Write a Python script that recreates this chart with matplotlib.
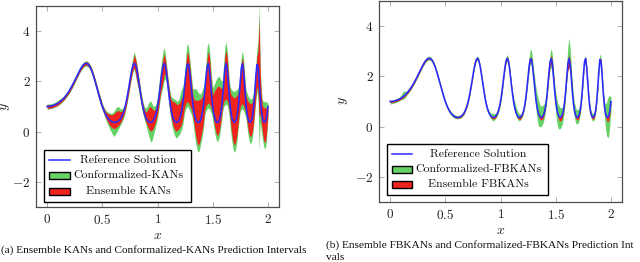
import numpy as np
import matplotlib
matplotlib.use("Agg")
import matplotlib.pyplot as plt
from matplotlib.lines import Line2D
from matplotlib.patches import Rectangle

plt.rcParams['mathtext.fontset'] = 'cm'

# ---------------- data ----------------
x_vals = np.linspace(0.0, 2.0, 201)

ref_y = [
 1.000,1.001,1.005,1.011,1.020,1.032,1.046,1.064,1.084,1.107,
 1.134,1.164,1.197,1.235,1.276,1.322,1.372,1.427,1.486,1.550,
 1.619,1.693,1.771,1.853,1.939,2.028,2.119,2.211,2.302,2.389,
 2.471,2.546,2.612,2.664,2.700,2.717,2.714,2.688,2.639,2.567,
 2.471,2.356,2.222,2.075,1.917,1.754,1.591,1.430,1.276,1.132,
 1.000,0.881,0.776,0.685,0.607,0.542,0.488,0.446,0.413,0.389,
 0.374,0.368,0.370,0.382,0.404,0.437,0.485,0.549,0.634,0.744,
 0.882,1.053,1.257,1.495,1.756,2.028,2.288,2.508,2.660,2.718,
 2.671,2.521,2.288,2.002,1.697,1.403,1.139,0.917,0.740,0.604,
 0.504,0.436,0.392,0.371,0.370,0.390,0.434,0.509,0.620,0.781,
 1.000,1.284,1.626,1.999,2.351,2.612,2.718,2.636,2.381,2.017,
 1.619,1.250,0.946,0.718,0.558,0.453,0.393,0.369,0.377,0.419,
 0.505,0.647,0.865,1.175,1.576,2.028,2.439,2.687,2.680,2.415,
 1.983,1.513,1.100,0.791,0.582,0.453,0.386,0.368,0.393,0.471,
 0.618,0.862,1.227,1.707,2.222,2.612,2.709,2.460,1.976,1.443,
 1.000,0.692,0.503,0.402,0.368,0.390,0.477,0.653,0.956,1.413,
 1.983,2.499,2.718,2.512,1.990,1.403,0.932,0.626,0.453,0.378,
 0.375,0.442,0.608,0.915,1.405,2.028,2.563,2.705,2.351,1.725,
 1.134,0.724,0.494,0.388,0.371,0.437,0.615,0.962,1.520,2.197,
 2.671,2.607,2.049,1.364,0.845,0.542,0.401,0.369,0.431,0.619,1.000]

# Panel (a): Ensemble KANs (red) band
ens_kan_lo = [
 0.94,0.93,0.93,0.94,0.95,0.96,0.98,1.00,1.02,1.04,
 1.07,1.10,1.14,1.18,1.22,1.26,1.31,1.37,1.43,1.49,
 1.56,1.63,1.71,1.79,1.88,1.97,2.06,2.15,2.24,2.33,
 2.41,2.48,2.55,2.60,2.63,2.65,2.65,2.62,2.57,2.50,
 2.39,2.27,2.13,1.98,1.82,1.65,1.49,1.33,1.17,1.03,
 0.93,0.80,0.68,0.57,0.47,0.38,0.30,0.24,0.19,0.16,
 0.13,0.12,0.14,0.18,0.22,0.27,0.33,0.40,0.49,0.60,
 0.74,0.90,1.10,1.33,1.58,1.84,2.10,2.32,2.48,2.55,
 2.35,2.10,1.90,1.70,1.45,1.20,0.95,0.75,0.58,0.45,
 0.33,0.22,0.12,0.05,0.02,0.05,0.12,0.22,0.35,0.50,
 0.72,0.98,1.30,1.60,1.80,2.00,2.25,2.30,2.10,1.75,
 1.30,0.95,0.65,0.42,0.25,0.12,0.05,0.02,0.04,0.10,
 0.15,0.22,0.35,0.55,0.85,1.05,1.15,1.20,1.15,1.05,
 0.95,0.85,0.60,0.30,0.00,-0.25,-0.45,-0.55,-0.45,-0.25,
 -0.05,0.20,0.55,0.90,1.05,1.10,1.15,1.10,1.00,0.90,
 0.70,0.40,0.15,-0.05,-0.15,-0.10,0.05,0.30,0.65,1.00,
 1.20,1.25,1.30,1.25,1.10,0.80,0.40,0.00,-0.30,-0.50,
 -0.50,-0.35,-0.10,0.30,0.70,1.00,1.10,1.10,1.00,0.90,
 0.75,0.40,0.10,-0.10,-0.20,-0.15,0.05,0.40,0.90,1.40,
 1.80,1.60,0.60,0.70,0.30,0.00,-0.30,-0.45,-0.35,0.10,0.70]
ens_kan_hi = [
 1.08,1.06,1.06,1.07,1.08,1.09,1.10,1.12,1.14,1.17,
 1.20,1.24,1.27,1.30,1.34,1.38,1.43,1.48,1.54,1.61,
 1.68,1.75,1.83,1.91,2.00,2.09,2.18,2.27,2.36,2.45,
 2.53,2.61,2.67,2.72,2.76,2.78,2.78,2.75,2.70,2.63,
 2.54,2.43,2.30,2.16,2.01,1.85,1.69,1.53,1.38,1.24,
 1.08,0.97,0.88,0.80,0.75,0.72,0.70,0.68,0.67,0.68,
 0.70,0.74,0.78,0.82,0.84,0.83,0.80,0.80,0.83,0.90,
 0.98,1.15,1.36,1.60,1.87,2.15,2.42,2.68,2.88,3.05,
 2.90,2.70,2.42,2.12,1.82,1.52,1.27,1.06,0.90,0.80,
 0.78,0.85,0.95,1.00,0.98,0.92,0.86,0.85,0.90,1.05,
 1.25,1.60,2.00,2.35,2.65,2.90,3.08,2.90,2.60,2.20,
 1.85,1.55,1.30,1.22,1.20,1.18,1.15,1.10,1.08,1.10,
 1.15,1.25,1.35,1.45,1.75,2.25,2.85,3.18,3.05,2.70,
 2.30,1.85,1.45,1.30,1.25,1.25,1.25,1.25,1.28,1.30,
 1.35,1.45,1.60,1.95,2.45,2.95,3.20,3.00,2.40,1.80,
 1.45,1.55,1.65,1.72,1.78,1.80,1.80,1.75,1.70,1.80,
 2.40,3.00,3.25,3.00,2.40,1.80,1.55,1.45,1.40,1.35,
 1.35,1.40,1.45,1.55,1.75,2.25,2.75,2.95,2.60,2.00,
 1.45,1.30,1.20,1.15,1.12,1.12,1.20,1.40,1.80,2.40,
 3.00,3.20,4.50,2.30,1.40,1.05,0.95,0.95,0.95,0.95,1.05]

# Panel (a): Conformalized-KANs (green) band
conf_kan_lo = [
 0.90,0.89,0.90,0.91,0.92,0.93,0.95,0.97,0.99,1.01,
 1.04,1.07,1.10,1.14,1.18,1.23,1.28,1.33,1.39,1.45,
 1.51,1.58,1.66,1.74,1.83,1.92,2.01,2.10,2.19,2.28,
 2.36,2.43,2.50,2.55,2.59,2.61,2.60,2.57,2.52,2.45,
 2.34,2.22,2.08,1.93,1.77,1.60,1.44,1.28,1.12,0.98,
 0.88,0.74,0.61,0.49,0.38,0.28,0.18,0.08,0.00,-0.08,
 -0.18,-0.17,-0.10,-0.03,0.05,0.14,0.22,0.31,0.40,0.51,
 0.65,0.82,1.02,1.25,1.50,1.76,2.01,2.24,2.40,2.47,
 2.25,2.00,1.80,1.60,1.35,1.10,0.86,0.66,0.48,0.35,
 0.18,0.02,-0.15,-0.30,-0.42,-0.35,-0.20,-0.02,0.15,0.32,
 0.55,0.82,1.15,1.45,1.62,1.80,2.05,2.10,1.95,1.60,
 1.15,0.80,0.50,0.25,0.05,-0.10,-0.20,-0.25,-0.22,-0.15,
 -0.10,0.00,0.12,0.32,0.62,0.85,0.95,1.00,0.95,0.85,
 0.75,0.65,0.40,0.05,-0.30,-0.55,-0.75,-0.82,-0.72,-0.50,
 -0.30,-0.05,0.30,0.70,0.85,0.90,0.95,0.90,0.80,0.70,
 0.45,0.15,-0.10,-0.30,-0.40,-0.35,-0.20,0.10,0.45,0.80,
 1.00,1.05,1.10,1.05,0.90,0.55,0.10,-0.30,-0.60,-0.78,
 -0.80,-0.65,-0.35,0.10,0.50,0.80,0.90,0.90,0.80,0.70,
 0.55,0.20,-0.15,-0.35,-0.48,-0.45,-0.20,0.20,0.70,1.20,
 1.60,1.30,-0.75,0.40,0.00,-0.30,-0.55,-0.70,-0.60,-0.15,0.55]
conf_kan_hi = [
 1.12,1.10,1.10,1.11,1.12,1.13,1.15,1.17,1.19,1.22,
 1.24,1.29,1.31,1.34,1.38,1.42,1.47,1.52,1.58,1.65,
 1.73,1.80,1.88,1.96,2.05,2.14,2.23,2.32,2.41,2.50,
 2.58,2.65,2.71,2.76,2.80,2.82,2.82,2.79,2.75,2.68,
 2.59,2.48,2.35,2.21,2.06,1.90,1.74,1.58,1.43,1.29,
 1.13,1.03,0.94,0.86,0.81,0.78,0.76,0.74,0.73,0.74,
 0.78,0.85,0.92,0.98,1.00,0.98,0.93,0.90,0.92,0.98,
 1.06,1.23,1.44,1.68,1.95,2.24,2.52,2.80,3.02,3.18,
 3.00,2.80,2.52,2.22,1.92,1.62,1.37,1.16,1.02,0.94,
 0.95,1.05,1.15,1.22,1.20,1.12,1.03,1.00,1.04,1.18,
 1.40,1.78,2.20,2.58,2.92,3.20,3.35,3.12,2.78,2.35,
 2.00,1.70,1.45,1.36,1.33,1.30,1.27,1.23,1.22,1.25,
 1.40,1.60,1.72,1.80,2.05,2.60,3.20,3.52,3.40,3.00,
 2.55,2.10,1.70,1.70,1.72,1.70,1.62,1.55,1.50,1.50,
 1.60,1.70,1.85,2.25,2.85,3.40,3.55,3.30,2.75,2.15,
 1.75,1.85,1.95,2.05,2.15,2.20,2.18,2.10,2.00,2.10,
 2.80,3.40,3.55,3.30,2.70,2.05,1.75,1.68,1.62,1.60,
 1.62,1.65,1.68,1.75,2.00,2.55,3.05,3.20,2.85,2.25,
 1.70,1.55,1.42,1.35,1.30,1.30,1.38,1.60,2.05,2.65,
 3.30,3.60,5.00,2.60,1.65,1.25,1.20,1.20,1.20,1.15,1.15]

# Panel (b): widths below / above the reference solution
ens_fb_dn = ([0.04]*20 + [0.03]*70 +
 [0.03,0.04,0.05,0.06,0.06,0.05,0.04,0.03,0.03,0.03] +
 [0.03,0.03,0.03,0.04,0.05,0.06,0.06,0.05,0.04,0.03] +
 [0.03,0.03,0.04,0.05,0.06,0.07,0.08,0.08,0.07,0.05] +
 [0.04,0.03,0.03,0.04,0.05,0.07,0.08,0.08,0.07,0.05] +
 [0.04,0.04,0.05,0.06,0.08,0.10,0.11,0.10,0.09,0.07] +
 [0.05,0.05,0.06,0.08,0.12,0.18,0.20,0.16,0.10,0.06] +
 [0.06,0.08,0.12,0.15,0.15,0.13,0.10,0.07,0.05,0.05] +
 [0.10,0.25,0.35,0.30,0.15,0.07,0.06,0.08,0.10,0.10] +
 [0.10,0.08,0.06,0.05,0.05,0.06,0.08,0.08,0.06,0.05] +
 [0.05,0.06,0.07,0.08,0.08,0.07,0.06,0.05,0.05,0.06] +
 [0.08,0.08,0.07,0.06,0.07,0.10,0.15,0.18,0.18,0.12,0.08])
ens_fb_up = ([0.03]*100 +
 [0.03,0.03,0.04,0.05,0.06,0.07,0.07,0.06,0.05,0.04] +
 [0.03]*10 +
 [0.03,0.03,0.03,0.04,0.05,0.06,0.07,0.08,0.07,0.05] +
 [0.04] + [0.03]*9 +
 [0.03,0.03,0.04,0.06,0.09,0.12,0.14,0.12,0.08,0.05] +
 [0.03]*10 +
 [0.05,0.10,0.14,0.12,0.08,0.05,0.03,0.03,0.03,0.03] +
 [0.03,0.03,0.03,0.03,0.04,0.05,0.07,0.08,0.06,0.04] +
 [0.03]*10 +
 [0.06,0.08,0.06,0.04,0.03,0.03,0.03,0.03,0.03,0.03,0.03])
conf_fb_dn = (
 [0.09,0.10,0.09,0.08,0.08,0.08,0.07,0.07,0.07,0.07] +
 [0.07,0.08,0.10,0.12,0.10,0.08,0.07,0.07,0.07,0.07] +
 [0.07]*40 +
 [0.06,0.06,0.06,0.06,0.06,0.07,0.07,0.07,0.07,0.07] +
 [0.07]*20 +
 [0.08,0.10,0.12,0.14,0.12,0.10,0.09,0.08,0.08,0.08] +
 [0.10,0.12,0.14,0.12,0.10,0.10,0.12,0.12,0.10,0.09] +
 [0.09,0.10,0.10,0.12,0.12,0.13,0.14,0.14,0.12,0.10] +
 [0.09,0.09,0.10,0.12,0.15,0.18,0.20,0.20,0.18,0.16] +
 [0.20,0.25,0.35,0.45,0.50,0.45,0.40,0.35,0.30,0.25] +
 [0.20,0.18,0.18,0.20,0.25,0.30,0.35,0.40,0.40,0.40] +
 [0.45,0.50,0.55,0.50,0.45,0.40,0.35,0.30,0.25,0.20] +
 [0.20,0.25,0.30,0.35,0.35,0.30,0.30,0.30,0.30,0.28] +
 [0.25,0.22,0.18,0.15,0.12,0.12,0.12,0.12,0.12,0.12] +
 [0.12,0.13,0.14,0.15,0.15,0.14,0.13,0.12,0.12,0.12] +
 [0.12,0.15,0.20,0.30,0.45,0.60,0.75,0.82,0.80,0.55,0.35])
conf_fb_up = (
 [0.06,0.06,0.06,0.06,0.07,0.07,0.07,0.08,0.08,0.09] +
 [0.12,0.18,0.22,0.18,0.12,0.10,0.08,0.08,0.08,0.08] +
 [0.07]*10 +
 [0.07,0.07,0.07,0.09,0.09,0.09,0.09,0.09,0.07,0.07] +
 [0.07]*30 +
 [0.07,0.07,0.07,0.07,0.07,0.07,0.07,0.10,0.10,0.10] +
 [0.10,0.07,0.07,0.07,0.07,0.07,0.07,0.07,0.07,0.07] +
 [0.10,0.12,0.14,0.15,0.15,0.13,0.12,0.12,0.14,0.16] +
 [0.16,0.14,0.12,0.12,0.13,0.14,0.15,0.14,0.12,0.10] +
 [0.10,0.14,0.20,0.25,0.25,0.22,0.18,0.14,0.12,0.10] +
 [0.10,0.12,0.18,0.22,0.25,0.30,0.35,0.40,0.35,0.28] +
 [0.30,0.40,0.50,0.55,0.55,0.50,0.45,0.45,0.45,0.40] +
 [0.35,0.30,0.28,0.28,0.30,0.35,0.40,0.38,0.32,0.30] +
 [0.35,0.40,0.42,0.42,0.40,0.35,0.30,0.28,0.30,0.40] +
 [0.55,0.70,0.80,0.65,0.50,0.40,0.35,0.32,0.30,0.30] +
 [0.30,0.28,0.25,0.20,0.15,0.15,0.15,0.15,0.13,0.12] +
 [0.12,0.13,0.14,0.15,0.15,0.14,0.13,0.12,0.14,0.18] +
 [0.22,0.20,0.16,0.14,0.20,0.35,0.55,0.75,0.80,0.60,0.20])

x_ticks = [0, 0.5, 1, 1.5, 2]
x_tick_labels = ['0', '0.5', '1', '1.5', '2']
y_ticks = [-2, 0, 2, 4]
y_tick_labels = ['-2', '0', '2', '4']

legend_a = ['Reference Solution', 'Conformalized-KANs', 'Ensemble KANs']
legend_b = ['Reference Solution', 'Conformalized-FBKANs', 'Ensemble FBKANs']
caption_a = '(a) Ensemble KANs and Conformalized-KANs Prediction Intervals'
caption_b1 = '(b) Ensemble FBKANs and Conformalized-FBKANs Prediction Int'
caption_b2 = 'vals'

# ---------------- styling ----------------
GREEN = '#66d266'
RED = '#f0231e'
BLUE = '#2b2bff'
FRAME = '#4d4d4d'
TICKC = '#a0a0a0'

ref = np.array(ref_y)

fig = plt.figure(figsize=(6.4, 2.62), dpi=100)
W, H = 640.0, 262.0
ax_a = fig.add_axes([36/W, (H-207)/H, 243/W, 201/H])
ax_b = fig.add_axes([379/W, (H-202)/H, 243/W, 201/H])


def style(ax, ylab_xy):
    ax.set_xlim(-0.1, 2.1)
    ax.set_ylim(-3, 5)
    ax.set_xticks(x_ticks)
    ax.set_xticklabels(['$%s$' % t for t in x_tick_labels])
    ax.set_yticks(y_ticks)
    ax.set_yticklabels(['$%s$' % t for t in y_tick_labels])
    ax.tick_params(direction='in', length=3.5, width=0.6, color=TICKC,
                   top=True, right=True, labelsize=9.5, pad=4, labelcolor='#222222')
    for s in ax.spines.values():
        s.set_color(FRAME)
        s.set_linewidth(0.9)
    ax.set_xlabel('$x$', fontsize=10, labelpad=1, color='#222222')
    ax.set_ylabel('$y$', fontsize=10, color='#222222')
    ax.yaxis.set_label_coords(*ylab_xy)


def legend(ax, labels, box, rows, hx, tx):
    # box = (x0, y0, w, h) in axes fraction; rows = y centres of entries
    ax.add_patch(Rectangle((box[0], box[1]), box[2], box[3], transform=ax.transAxes,
                           facecolor='white', edgecolor='black', lw=1.0, zorder=5))
    ax.add_line(Line2D([hx[0], hx[1]], [rows[0], rows[0]], transform=ax.transAxes,
                       color=BLUE, lw=1.1, zorder=6))
    ph = 7.0/201
    for r, c in zip(rows[1:], [GREEN, RED]):
        ax.add_patch(Rectangle((hx[0], r - ph/2), hx[1]-hx[0], ph, transform=ax.transAxes,
                               facecolor=c, edgecolor='black', lw=1.0, zorder=6))
    for r, lab in zip(rows, labels):
        ax.text(tx, r, lab, transform=ax.transAxes, ha='center', va='center',
                family='cmr10', fontsize=8.5, zorder=7, color='#111111')


# panel (a)
ax_a.fill_between(x_vals, conf_kan_lo, conf_kan_hi, color=GREEN, lw=0)
ax_a.fill_between(x_vals, ens_kan_lo, ens_kan_hi, color=RED, lw=0)
ax_a.plot(x_vals, ref_y, color=BLUE, lw=1.15)
style(ax_a, ((12-36)/243, (207-107)/201))
legend(ax_a, legend_a,
       ((44-36)/243, (207-202)/201, 147/243, 52/201),
       [(207-160)/201, (207-175.5)/201, (207-191)/201],
       ((49-36)/243, (70-36)/243), (128.5-36)/243)

# panel (b)
ax_b.fill_between(x_vals, ref - np.array(conf_fb_dn), ref + np.array(conf_fb_up),
                  color=GREEN, lw=0)
ax_b.fill_between(x_vals, ref - np.array(ens_fb_dn), ref + np.array(ens_fb_up),
                  color=RED, lw=0)
ax_b.plot(x_vals, ref_y, color=BLUE, lw=1.15)
style(ax_b, ((350-379)/243, (202-101)/201))
legend(ax_b, legend_b,
       ((387-379)/243, (202-195)/201, 161/243, 51/201),
       [(202-154)/201, (202-169)/201, (202-184)/201],
       ((392-379)/243, (412-379)/243), (478-379)/243)

fig.text(1/W, 1 - 250/H, caption_a, family='Liberation Serif', fontsize=8.1,
         va='center', ha='left', color='#111111')
fig.text(326/W, 1 - 245/H, caption_b1, family='Liberation Serif', fontsize=8.2,
         va='center', ha='left', color='#111111')
fig.text(326/W, 1 - 257/H, caption_b2, family='Liberation Serif', fontsize=8.2,
         va='center', ha='left', color='#111111')

fig.savefig('out.png', dpi=100)
